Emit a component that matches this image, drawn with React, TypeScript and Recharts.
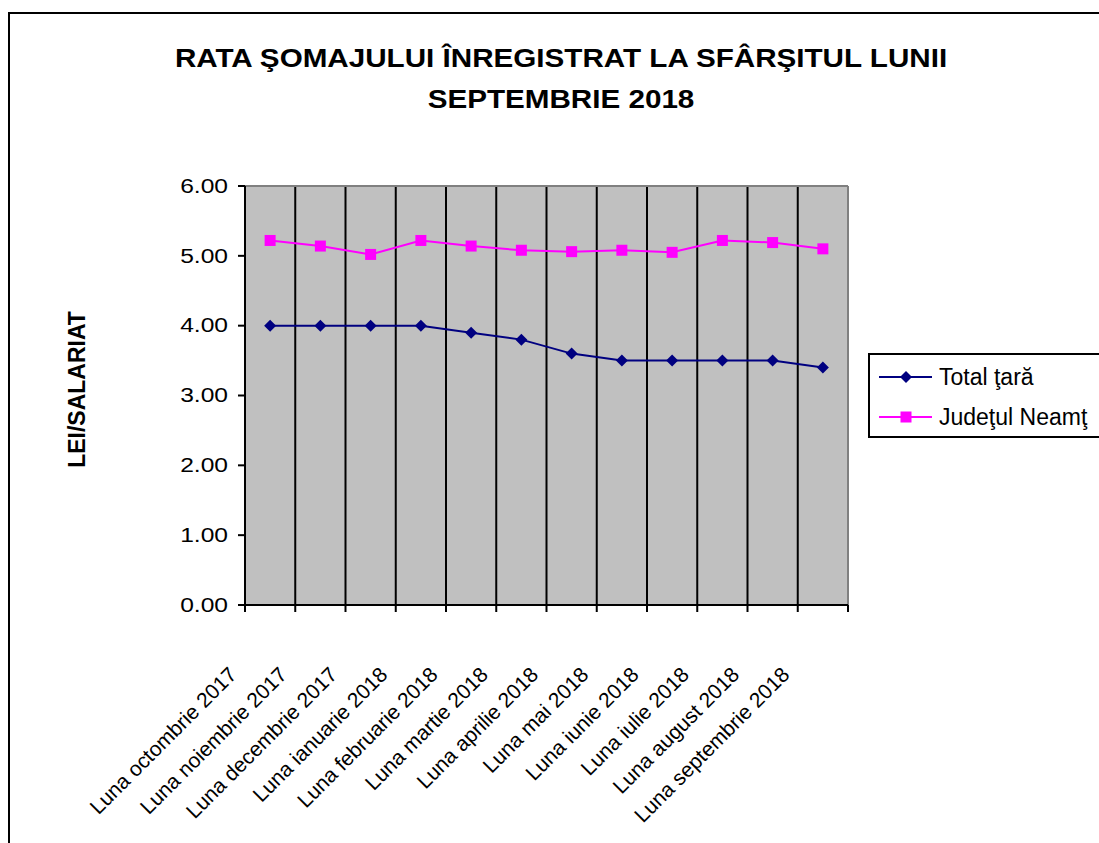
import React from 'react';
import {
  LineChart,
  Line,
  XAxis,
  YAxis,
  CartesianGrid,
  ReferenceLine,
  Legend,
} from 'recharts';

const months = [
  'Luna octombrie 2017',
  'Luna noiembrie 2017',
  'Luna decembrie 2017',
  'Luna ianuarie 2018',
  'Luna februarie 2018',
  'Luna martie 2018',
  'Luna aprilie 2018',
  'Luna mai  2018',
  'Luna iunie 2018',
  'Luna iulie 2018',
  'Luna august 2018',
  'Luna septembrie 2018',
];
const totalTara = [4.0, 4.0, 4.0, 4.0, 3.9, 3.8, 3.6, 3.5, 3.5, 3.5, 3.5, 3.4];
const judetulNeamt = [5.22, 5.14, 5.02, 5.22, 5.14, 5.08, 5.06, 5.08, 5.05, 5.22, 5.19, 5.1];
const yTicks = [0, 1, 2, 3, 4, 5, 6];
const xTicks = [...months.map((_, i) => i), months.length];

const titleLines = ['RATA ŞOMAJULUI ÎNREGISTRAT LA SFÂRŞITUL LUNII', 'SEPTEMBRIE 2018'];
const yTitle = 'LEI/SALARIAT';
const legendOrder = ['total', 'neamt'];

const FONT = '"Liberation Sans", Arial, sans-serif';
const NAVY = '#000080';
const MAGENTA = '#FF00FF';

const data = months.map((m, i) => ({
  x: i + 0.5,
  month: m,
  total: totalTara[i],
  neamt: judetulNeamt[i],
}));

const Diamond = ({ cx, cy, fill, r = 6 }: any) => (
  <path d={`M${cx},${cy - r}L${cx + r},${cy}L${cx},${cy + r}L${cx - r},${cy}Z`} fill={fill} />
);

const Square = ({ cx, cy, fill, r = 5.5 }: any) => (
  <rect x={cx - r} y={cy - r} width={r * 2} height={r * 2} fill={fill} />
);

const XTick = ({ x, y, payload }: any) => {
  const label = months[payload.value];
  if (!label) return <g />;
  return (
    <text
      transform={`translate(${x - 7},${y + 62}) rotate(-45)`}
      textAnchor="end"
      fontSize={21}
      fontFamily={FONT}
      fill="#000"
    >
      {label}
    </text>
  );
};

const YTick = ({ x, y, payload }: any) => (
  <text
    transform={`translate(${x - 8},${y}) scale(1.2,1)`}
    textAnchor="end"
    dominantBaseline="central"
    fontSize={20.5}
    fontFamily={FONT}
    fill="#000"
  >
    {Number(payload.value).toFixed(2)}
  </text>
);

const renderLegend = ({ payload }: any) => {
  const items = [...(payload || [])].sort(
    (a: any, b: any) => legendOrder.indexOf(a.dataKey) - legendOrder.indexOf(b.dataKey)
  );
  return (
    <div
      style={{
        width: 260,
        height: 85,
        border: '2px solid #000',
        background: '#fff',
        fontFamily: FONT,
        fontSize: 23,
        boxSizing: 'border-box',
        paddingTop: 5,
      }}
    >
      {items.map((p: any) => (
        <div key={p.dataKey} style={{ display: 'flex', alignItems: 'center', height: 34, marginBottom: 6 }}>
          <svg width={72} height={20} style={{ marginLeft: 9 }}>
            <line x1={0} y1={10} x2={53} y2={10} stroke={p.color} strokeWidth={2} />
            {p.dataKey === 'total' ? (
              <Diamond cx={27} cy={10} fill={p.color} />
            ) : (
              <Square cx={27} cy={10} fill={p.color} />
            )}
          </svg>
          <span style={{ marginLeft: -12 }}>{p.value}</span>
        </div>
      ))}
    </div>
  );
};

export default function App() {
  return (
    <div
      style={{
        position: 'absolute',
        left: 0,
        top: 0,
        width: 1099,
        height: 843,
        overflow: 'hidden',
        background: '#fff',
      }}
    >
      <div
        style={{
          position: 'absolute',
          left: 8,
          top: 12,
          width: 1300,
          height: 1000,
          border: '2px solid #000',
        }}
      />
      <svg
        width={1099}
        height={130}
        style={{ position: 'absolute', left: 0, top: 0 }}
      >
        {titleLines.map((t, i) => (
          <text
            key={i}
            transform={`translate(561,${67 + i * 41}) scale(1.14,1)`}
            textAnchor="middle"
            fontSize={26}
            fontWeight="bold"
            fontFamily={FONT}
            fill="#000"
          >
            {t}
          </text>
        ))}
      </svg>
      <div style={{ position: 'absolute', left: 0, top: 0 }}>
        <LineChart
          width={1099}
          height={843}
          data={data}
          margin={{ top: 186, right: 251, bottom: 208, left: 0 }}
        >
          <CartesianGrid
            horizontal={false}
            stroke="#000"
            strokeWidth={2}
            fill="#C0C0C0"
            fillOpacity={1}
          />
          <ReferenceLine y={6} stroke="#808080" strokeWidth={2} />
          <ReferenceLine x={12} stroke="#808080" strokeWidth={2} />
          <XAxis
            type="number"
            dataKey="x"
            domain={[0, 12]}
            ticks={xTicks}
            interval={0}
            tickSize={7}
            axisLine={{ stroke: '#000', strokeWidth: 2 }}
            tickLine={{ stroke: '#000', strokeWidth: 2 }}
            tick={<XTick />}
            height={30}
          />
          <YAxis
            type="number"
            domain={[0, 6]}
            ticks={yTicks}
            interval={0}
            width={245}
            tickSize={7}
            axisLine={{ stroke: '#000', strokeWidth: 2 }}
            tickLine={{ stroke: '#000', strokeWidth: 2 }}
            tick={<YTick />}
            label={{
              content: ({ viewBox }: any) => (
                <text
                  transform={`translate(${viewBox.x + 85},${viewBox.y + viewBox.height / 2 - 6}) rotate(-90)`}
                  textAnchor="middle"
                  fontSize={23}
                  fontWeight="bold"
                  fontFamily={FONT}
                  fill="#000"
                >
                  {yTitle}
                </text>
              ),
            }}
          />
          <Legend
            layout="vertical"
            align="center"
            verticalAlign="middle"
            content={renderLegend}
            wrapperStyle={{ left: 868, top: 353, width: 260, height: 85 }}
          />
          <Line
            type="linear"
            dataKey="total"
            name="Total ţară"
            stroke={NAVY}
            strokeWidth={2}
            isAnimationActive={false}
            dot={(p: any) => <Diamond key={`d-${p.index}`} cx={p.cx} cy={p.cy} fill={NAVY} />}
            activeDot={false}
          />
          <Line
            type="linear"
            dataKey="neamt"
            name="Judeţul Neamţ"
            stroke={MAGENTA}
            strokeWidth={2}
            isAnimationActive={false}
            dot={(p: any) => <Square key={`s-${p.index}`} cx={p.cx} cy={p.cy} fill={MAGENTA} />}
            activeDot={false}
          />
        </LineChart>
      </div>
    </div>
  );
}
